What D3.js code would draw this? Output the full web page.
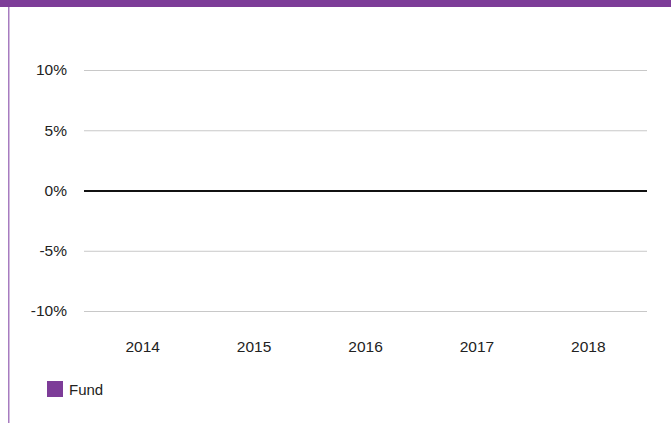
<!DOCTYPE html>
<html>
<head>
<meta charset="utf-8">
<script src="https://cdn.jsdelivr.net/npm/d3@7"></script>
<style>
  body { margin: 0; background: #fff; }
  text { font-family: "Liberation Sans", Arial, sans-serif; fill: #222; }
</style>
</head>
<body>
<script>
// chart data
const years = ['2014', '2015', '2016', '2017', '2018'];
const fundValues = [null, null, null, null, null]; // no bars shown in the picture
const yTicks = [-10, -5, 0, 5, 10];
const seriesNames = ['Fund'];

const W = 671, H = 423;
const plot = { left: 84, right: 647, top: 70, bottom: 311 };

const svg = d3.select('body').append('svg')
    .attr('width', W)
    .attr('height', H);

// purple header strip and side rule
svg.append('rect')
    .attr('x', 0).attr('y', 0)
    .attr('width', W).attr('height', 7)
    .attr('fill', '#7d3c98');

svg.append('rect')
    .attr('x', 8).attr('y', 7)
    .attr('width', 1.5).attr('height', H - 7)
    .attr('fill', '#a77cc0');

// categories sit a little inside the gridline span
const x = d3.scaleBand()
    .domain(years)
    .range([plot.left + 3, plot.right - 3]);

const y = d3.scaleLinear()
    .domain([-10, 10])
    .range([plot.bottom, plot.top]);

// gridlines + labels
const yAxis = d3.axisLeft(y)
    .tickValues(yTicks)
    .tickFormat(d => d + '%')
    .tickSize(-(plot.right - plot.left))
    .tickPadding(17);

const yG = svg.append('g')
    .attr('transform', `translate(${plot.left},0)`)
    .call(yAxis);
yG.select('.domain').remove();
yG.selectAll('.tick line')
    .attr('stroke', d => d === 0 ? '#111' : '#c8c8c8')
    .attr('stroke-width', d => d === 0 ? 2 : 1);
yG.selectAll('.tick text')
    .style('font-size', '15.5px')
    .attr('fill', '#222');

// bars (none have values)
svg.append('g').selectAll('rect')
    .data(years.map((yr, i) => ({ yr, v: fundValues[i] })).filter(d => d.v != null))
    .join('rect')
    .attr('x', d => x(d.yr) + x.bandwidth() * 0.2)
    .attr('width', x.bandwidth() * 0.6)
    .attr('y', d => y(Math.max(0, d.v)))
    .attr('height', d => Math.abs(y(d.v) - y(0)))
    .attr('fill', '#7d3c98');

// x labels
const xAxis = d3.axisBottom(x).tickSize(0).tickPadding(0);
const xG = svg.append('g')
    .attr('transform', `translate(0,${plot.bottom + 30})`)
    .call(xAxis);
xG.select('.domain').remove();
xG.selectAll('.tick text')
    .style('font-size', '15.5px')
    .attr('fill', '#222');

// legend
const legend = svg.append('g').attr('transform', 'translate(47,381)');
legend.selectAll('rect')
    .data(seriesNames)
    .join('rect')
    .attr('width', 16).attr('height', 16)
    .attr('fill', '#7d3c98');
legend.selectAll('text')
    .data(seriesNames)
    .join('text')
    .attr('x', 22).attr('y', 13.5)
    .style('font-size', '15px')
    .text(d => d);
</script>
</body>
</html>
